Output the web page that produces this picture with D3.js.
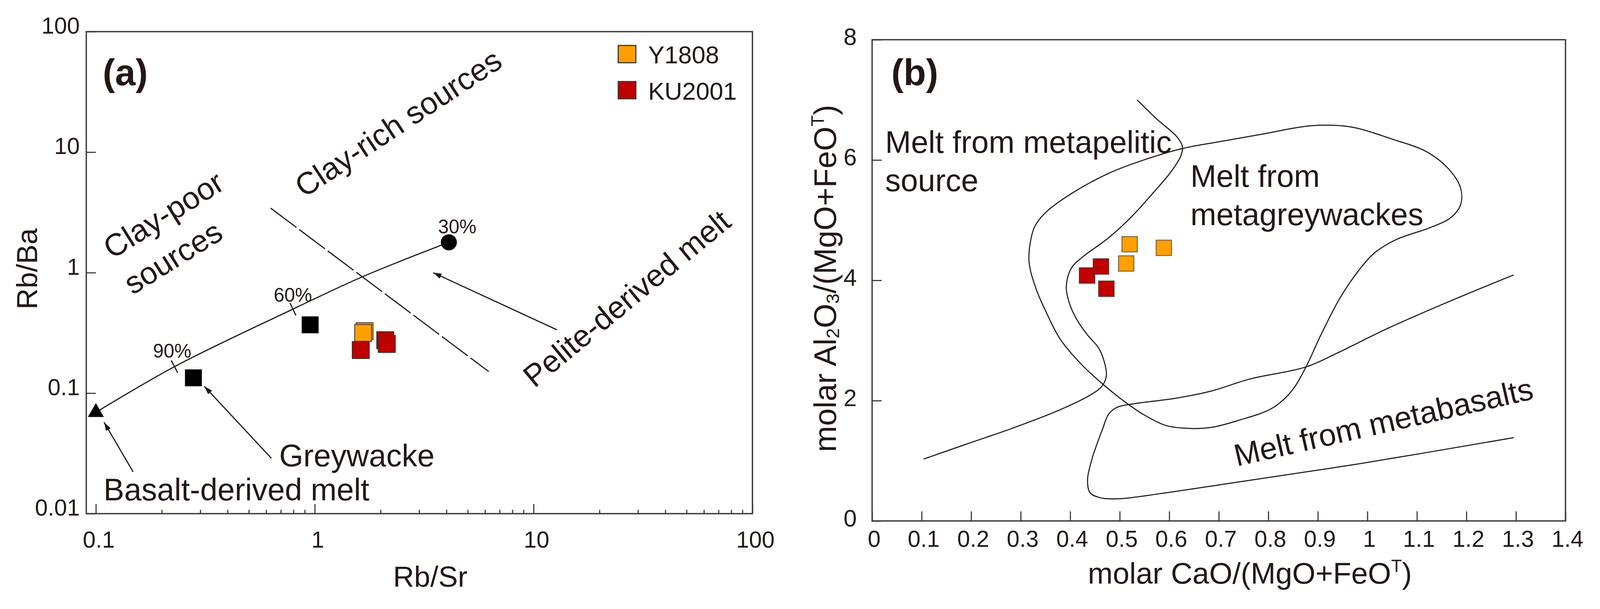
<!DOCTYPE html>
<html>
<head>
<meta charset="utf-8">
<title>Rb/Sr - Rb/Ba and CaO - Al2O3 source discrimination</title>
<script src="https://cdn.jsdelivr.net/npm/d3@7/dist/d3.min.js"></script>
<style>
  html, body { margin: 0; padding: 0; overflow: hidden; background: #fff; }
  svg { display: block; width: 100vw; height: 100vh; }
  svg text { font-family: "Liberation Sans", Arial, Helvetica, sans-serif; fill: #231815; }
</style>
</head>
<body>
<script>

// ---------- data: panel (a) Rb/Sr vs Rb/Ba (log-log) ----------
var xTicksA = [0.1, 1, 10, 100];
var xMinorA = [0.2, 0.3, 0.4, 0.5, 0.6, 0.7, 0.8, 0.9,
               2, 3, 4, 5, 6, 7, 8, 9,
               20, 30, 40, 50, 60, 70, 80, 90];
var yTicksA = [0.01, 0.1, 1, 10, 100];

var y1808A  = [[1.69, 0.327], [1.663, 0.316]];
var ku2001A = [[2.10, 0.275], [2.134, 0.256], [1.623, 0.228]];
var greywackeA = [[0.953, 0.369], [0.279, 0.134]];
var basaltMeltA = [[0.1, 0.0693]];
var peliteMeltA = [[4.10, 1.785]];
// melting curve from basalt-derived melt to pelite-derived melt
var mixingCurveA = [[0.1, 0.0693], [0.2287, 0.166], [0.7948, 0.498], [1.649, 0.923], [4.10, 1.785]];
var mixingMarksA = [{label: "90%", at: 1}, {label: "60%", at: 2}, {label: "30%", at: 4}];
var clayDividerA = [[0.629, 3.43], [6.24, 0.151]];
var arrowsA = [
  {from: [12.79, 0.335], to: [3.477, 1.0]},
  {from: [0.634, 0.0288], to: [0.313, 0.114]},
  {from: [0.148, 0.0222], to: [0.109, 0.0573]}
];

// ---------- data: panel (b) CaO/(MgO+FeOT) vs Al2O3/(MgO+FeOT) ----------
var xTicksB = [0, 0.1, 0.2, 0.3, 0.4, 0.5, 0.6, 0.7, 0.8, 0.9, 1, 1.1, 1.2, 1.3, 1.4];
var yTicksB = [0, 2, 4, 6, 8];

var y1808B  = [[0.520, 4.60], [0.589, 4.54], [0.513, 4.28]];
var ku2001B = [[0.462, 4.23], [0.434, 4.08], [0.473, 3.86]];

var metapeliticB = [[0.535, 7.0], [0.575, 6.68], [0.615, 6.39], [0.626, 6.24], [0.624, 6.08],
  [0.604, 5.81], [0.567, 5.45], [0.523, 5.05], [0.478, 4.71], [0.423, 4.375], [0.402, 4.20],
  [0.392, 3.89], [0.400, 3.58], [0.414, 3.34], [0.435, 3.09], [0.457, 2.88], [0.469, 2.64],
  [0.473, 2.42], [0.465, 2.25], [0.444, 2.11], [0.380, 1.85], [0.283, 1.54], [0.190, 1.276],
  [0.104, 1.028]];

var metagreywackeB = [[0.317, 4.3], [0.321, 4.7], [0.330, 4.92], [0.352, 5.14], [0.404, 5.45],
  [0.478, 5.78], [0.552, 6.01], [0.626, 6.19], [0.705, 6.31], [0.788, 6.43], [0.887, 6.57],
  [0.966, 6.55], [1.049, 6.35], [1.119, 6.14], [1.163, 5.86], [1.188, 5.54], [1.188, 5.25],
  [1.168, 5.04], [1.128, 4.88], [1.059, 4.68], [1.015, 4.46], [0.985, 4.19], [0.945, 3.71],
  [0.906, 3.09], [0.876, 2.56], [0.847, 2.16], [0.808, 1.875], [0.739, 1.67], [0.685, 1.556],
  [0.634, 1.54], [0.592, 1.59], [0.550, 1.76], [0.512, 1.97], [0.465, 2.28], [0.423, 2.60],
  [0.380, 3.02], [0.351, 3.48], [0.331, 3.86]];

var metabasaltB = [[1.2955, 4.09], [1.1615, 3.635], [1.0345, 3.176], [0.939, 2.79], [0.876, 2.56],
  [0.763, 2.36], [0.685, 2.16], [0.613, 2.04], [0.530, 1.95], [0.495, 1.89], [0.478, 1.78],
  [0.465, 1.52], [0.444, 1.03], [0.435, 0.68], [0.440, 0.47], [0.461, 0.385], [0.50, 0.37],
  [0.581, 0.453], [0.717, 0.62], [0.983, 0.95], [1.2955, 1.385]];

var seriesNames = ["Y1808", "KU2001"];
var seriesFill = {"Y1808": "#ffa000", "KU2001": "#c00000"};

// ---------- layout ----------
var W = 4172, H = 1558;
var ink = "#231815", frameCol = "#3e3a39";
var noteSize = 81;

// viewBox keeps the whole figure inside the window
var svg = d3.select("body").append("svg")
            .attr("viewBox", "0 0 " + W + " " + H)
            .attr("preserveAspectRatio", "xMidYMid meet");

svg.append("defs").append("marker")
   .attr("id", "arrowhead")
   .attr("viewBox", "0 0 22 14")
   .attr("refX", 22).attr("refY", 7)
   .attr("markerWidth", 22).attr("markerHeight", 14)
   .attr("markerUnits", "userSpaceOnUse")
   .attr("orient", "auto")
   .append("path")
   .attr("d", "M0,0 L22,7 L0,14 Z")
   .attr("fill", ink);

function styleAxis(g, size) {
  g.attr("font-family", null).attr("font-size", size).attr("color", frameCol);
  g.select(".domain").remove();
  g.selectAll(".tick line").attr("stroke-width", 3);
}

function drawSquares(g, data, x, y, size, fill, stroke) {
  g.selectAll(null)
   .data(data)
   .enter()
   .append("rect")
   .attr("x", function(d) { return x(d[0]) - size / 2; })
   .attr("y", function(d) { return y(d[1]) - size / 2; })
   .attr("width", size)
   .attr("height", size)
   .attr("fill", fill)
   .attr("stroke", stroke)
   .attr("stroke-width", 2.5);
}

// =================== panel (a) ===================
var boxA = {left: 225, right: 1962, top: 68, bottom: 1324};
var xA = d3.scaleLog().domain([0.0904, 100]).range([boxA.left, boxA.right]);
var yA = d3.scaleLog().domain([0.01, 100]).range([boxA.bottom, boxA.top]);
var gA = svg.append("g");
var fmt = d3.format("~g");

// minor ticks
gA.append("g")
  .attr("transform", "translate(0," + boxA.bottom + ")")
  .call(d3.axisBottom(xA).tickValues(xMinorA).tickSize(-10).tickFormat(""))
  .call(styleAxis, 60);

gA.append("g")
  .attr("transform", "translate(0," + boxA.bottom + ")")
  .call(d3.axisBottom(xA).tickValues(xTicksA).tickSize(-25).tickPadding(46).tickFormat(fmt))
  .call(styleAxis, 60)
  .selectAll("text").attr("dx", "0.12em");

gA.append("g")
  .attr("transform", "translate(" + boxA.left + ",0)")
  .call(d3.axisLeft(yA).tickValues(yTicksA).tickSize(-25).tickPadding(17).tickFormat(fmt))
  .call(styleAxis, 60)
  .selectAll("text").attr("dy", "0.08em");

gA.append("rect")
  .attr("x", boxA.left).attr("y", boxA.top)
  .attr("width", boxA.right - boxA.left).attr("height", boxA.bottom - boxA.top)
  .attr("fill", "none").attr("stroke", frameCol).attr("stroke-width", 3.5);

// clay-poor / clay-rich divider
gA.append("path")
  .attr("d", d3.line().x(function(d) { return xA(d[0]); }).y(function(d) { return yA(d[1]); })(clayDividerA))
  .attr("fill", "none").attr("stroke", ink).attr("stroke-width", 3)
  .attr("stroke-dasharray", "84 9");

// melting curve
var curvePx = mixingCurveA.map(function(d) { return [xA(d[0]), yA(d[1])]; });
gA.append("path")
  .attr("d", d3.line().curve(d3.curveCatmullRom.alpha(0.5))(curvePx))
  .attr("fill", "none").attr("stroke", ink).attr("stroke-width", 3);

// cross marks on the curve
mixingMarksA.filter(function(m) { return m.at < curvePx.length - 1; }).forEach(function(m) {
  var p = curvePx[m.at], a = curvePx[m.at - 1], b = curvePx[m.at + 1];
  var ang = Math.atan2(b[1] - a[1], b[0] - a[0]) + Math.PI / 2;
  var dx = 18 * Math.cos(ang), dy = 18 * Math.sin(ang);
  gA.append("line")
    .attr("x1", p[0] - dx).attr("y1", p[1] - dy)
    .attr("x2", p[0] + dx).attr("y2", p[1] + dy)
    .attr("stroke", ink).attr("stroke-width", 3);
});

// percent labels
var markOffset = {"90%": [-6, -41], "60%": [0, -37], "30%": [22, -41]};
gA.selectAll(null)
  .data(mixingMarksA)
  .enter()
  .append("text")
  .attr("x", function(d) { return curvePx[d.at][0] + markOffset[d.label][0]; })
  .attr("y", function(d) { return curvePx[d.at][1] + markOffset[d.label][1]; })
  .attr("dy", "0.36em")
  .attr("text-anchor", "middle")
  .attr("font-size", 50)
  .text(function(d) { return d.label; });

// arrows
gA.selectAll(null)
  .data(arrowsA)
  .enter()
  .append("line")
  .attr("x1", function(d) { return xA(d.from[0]); })
  .attr("y1", function(d) { return yA(d.from[1]); })
  .attr("x2", function(d) { return xA(d.to[0]); })
  .attr("y2", function(d) { return yA(d.to[1]); })
  .attr("stroke", ink).attr("stroke-width", 3)
  .attr("marker-end", "url(#arrowhead)");

// end members
gA.selectAll(null)
  .data(basaltMeltA)
  .enter()
  .append("path")
  .attr("d", d3.symbol().type(d3.symbolTriangle).size(760))
  .attr("transform", function(d) { return "translate(" + xA(d[0]) + "," + yA(d[1]) + ")"; })
  .attr("fill", "#000");

gA.selectAll(null)
  .data(peliteMeltA)
  .enter()
  .append("circle")
  .attr("cx", function(d) { return xA(d[0]); })
  .attr("cy", function(d) { return yA(d[1]); })
  .attr("r", 21)
  .attr("fill", "#000");

drawSquares(gA, greywackeA, xA, yA, 44, "#000", "none");
drawSquares(gA, y1808A, xA, yA, 44, seriesFill["Y1808"], "#5a4636");
drawSquares(gA, ku2001A, xA, yA, 44, seriesFill["KU2001"], "#4a2424");

// field labels
var notesA = [
  {text: "Clay-poor", x: 426, y: 545, rot: -32},
  {text: "sources", x: 451, y: 656, rot: -32},
  {text: "Clay-rich sources", x: 1038, y: 306, rot: -33.5},
  {text: "Pelite-derived melt", x: 1634, y: 763, rot: -39.5}
];
gA.selectAll(null)
  .data(notesA)
  .enter()
  .append("text")
  .attr("transform", function(d) { return "translate(" + d.x + "," + d.y + ") rotate(" + d.rot + ")"; })
  .attr("dy", "0.35em")
  .attr("text-anchor", "middle")
  .attr("font-size", noteSize)
  .text(function(d) { return d.text; });

gA.append("text").attr("x", 728).attr("y", 1201).attr("font-size", noteSize).text("Greywacke");
gA.append("text").attr("x", 270).attr("y", 1289).attr("font-size", noteSize).text("Basalt-derived melt");
gA.append("text").attr("x", 268).attr("y", 208).attr("font-size", 96).attr("font-weight", "bold").text("(a)");

// legend
var legend = gA.selectAll(null)
  .data(seriesNames)
  .enter()
  .append("g")
  .attr("transform", function(d, i) { return "translate(1612," + (104 + i * 94) + ")"; });
legend.append("rect")
  .attr("width", 46).attr("height", 45)
  .attr("fill", function(d) { return seriesFill[d]; })
  .attr("stroke", frameCol).attr("stroke-width", 3);
legend.append("text")
  .attr("x", 78).attr("y", 47)
  .attr("font-size", 64)
  .text(function(d) { return d; });

// axis titles
gA.append("text")
  .attr("x", 1122).attr("y", 1514)
  .attr("text-anchor", "middle").attr("font-size", 76)
  .text("Rb/Sr");
gA.append("text")
  .attr("transform", "translate(97,686) rotate(-90)")
  .attr("text-anchor", "middle").attr("font-size", 76)
  .text("Rb/Ba");

// =================== panel (b) ===================
var boxB = {left: 2274, right: 4082, top: 89, bottom: 1343};
var xB = d3.scaleLinear().domain([0, 1.4]).range([boxB.left, boxB.right]);
var yB = d3.scaleLinear().domain([0, 8]).range([boxB.bottom, boxB.top]);
var gB = svg.append("g");

gB.append("g")
  .attr("transform", "translate(0," + boxB.bottom + ")")
  .call(d3.axisBottom(xB).tickValues(xTicksB).tickSize(-25).tickPadding(25).tickFormat(fmt))
  .call(styleAxis, 60)
  .selectAll("text").attr("dx", "0.08em");

gB.append("g")
  .attr("transform", "translate(" + boxB.left + ",0)")
  .call(d3.axisLeft(yB).tickValues(yTicksB).tickSize(-25).tickPadding(40).tickFormat(fmt))
  .call(styleAxis, 62)
  .selectAll("text").attr("dy", "0.22em");

gB.append("rect")
  .attr("x", boxB.left).attr("y", boxB.top)
  .attr("width", boxB.right - boxB.left).attr("height", boxB.bottom - boxB.top)
  .attr("fill", "none").attr("stroke", frameCol).attr("stroke-width", 3.5);

var lineB = d3.line()
  .x(function(d) { return xB(d[0]); })
  .y(function(d) { return yB(d[1]); });

gB.append("path")
  .attr("d", lineB.curve(d3.curveCatmullRom.alpha(0.5))(metapeliticB))
  .attr("fill", "none").attr("stroke", ink).attr("stroke-width", 2.8);
gB.append("path")
  .attr("d", lineB.curve(d3.curveCatmullRomClosed.alpha(0.5))(metagreywackeB))
  .attr("fill", "none").attr("stroke", ink).attr("stroke-width", 2.8);
gB.append("path")
  .attr("d", lineB.curve(d3.curveCatmullRom.alpha(0.5))(metabasaltB))
  .attr("fill", "none").attr("stroke", ink).attr("stroke-width", 2.8);

drawSquares(gB, y1808B, xB, yB, 40, seriesFill["Y1808"], "#7a6450");
drawSquares(gB, ku2001B, xB, yB, 40, seriesFill["KU2001"], "#6a2a2a");

gB.append("text").attr("x", 2324).attr("y", 208).attr("font-size", 96).attr("font-weight", "bold").text("(b)");

var fieldText = gB.append("g").attr("font-size", noteSize);
fieldText.append("text").attr("x", 2308).attr("y", 384).text("Melt from metapelitic");
fieldText.append("text").attr("x", 2308).attr("y", 484).text("source");
fieldText.append("text").attr("x", 3104).attr("y", 472).text("Melt from");
fieldText.append("text").attr("x", 3104).attr("y", 572).text("metagreywackes");
fieldText.append("text")
  .attr("transform", "translate(3225,1201) rotate(-12.8)")
  .text("Melt from metabasalts");

// axis titles with sub/superscripts
var xt = gB.append("text")
  .attr("x", 3259).attr("y", 1506)
  .attr("text-anchor", "middle").attr("font-size", 78);
xt.append("tspan").text("molar CaO/(MgO+FeO");
xt.append("tspan").attr("font-size", 46).attr("dy", -30).text("T");
xt.append("tspan").attr("dy", 30).text(")");

var yt = gB.append("text")
  .attr("transform", "translate(2180,711) rotate(-90)")
  .attr("text-anchor", "middle").attr("font-size", 82);
yt.append("tspan").text("molar Al");
yt.append("tspan").attr("font-size", 48).attr("dy", 8).text("2");
yt.append("tspan").attr("dy", -8).text("O");
yt.append("tspan").attr("font-size", 48).attr("dy", 8).text("3");
yt.append("tspan").attr("dy", -8).text("/(MgO+FeO");
yt.append("tspan").attr("font-size", 48).attr("dy", -32).text("T");
yt.append("tspan").attr("dy", 32).text(")");

</script>
</body>
</html>
